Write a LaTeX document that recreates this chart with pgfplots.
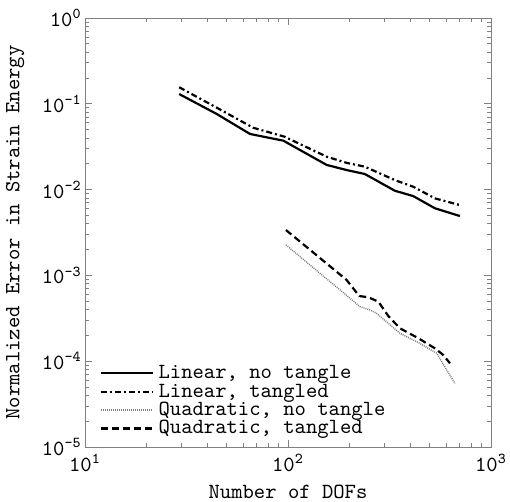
\documentclass[border=0pt]{standalone}
\usepackage{pgfplots}
\pgfplotsset{compat=1.18}
\begin{document}
\ttfamily
\begin{tikzpicture}
\begin{axis}[
  name=ax,
  scale only axis,
  width=203pt, height=214.5pt,
  xmode=log, ymode=log,
  xmin=10, xmax=1000, ymin=1e-5, ymax=1,
  xtick={10,100,1000}, ytick={1e-5,1e-4,1e-3,1e-2,1e-1,1},
  font=\ttfamily\fontsize{10.8}{12}\selectfont,
  xticklabel={10\textsuperscript{\pgfmathparse{int(round(\tick/ln(10)))}\pgfmathresult}},
  yticklabel={10\textsuperscript{\pgfmathparse{int(round(\tick/ln(10)))}\pgfmathresult}},
  yticklabel style={inner xsep=1.5pt},
  axis line style={gray},
  every tick/.style={gray},
  major tick length=3.5pt, minor tick length=2pt,
  xlabel={Number of DOFs},
  ylabel={Normalized Error in Strain Energy},
  xlabel style={at={(axis description cs:0.5,-0.1049)}, anchor=center, inner sep=1pt},
  ylabel style={at={(axis description cs:-0.1724,0.5)}, anchor=center, inner sep=1pt},
  legend cell align=left,
  legend style={draw=none, fill=none, at={(0,0)}, anchor=south west,
    xshift=7pt, yshift=4.3pt, inner sep=0pt, row sep=-0.3pt, column sep=2pt,
    nodes={inner sep=0.5pt, text height=7pt, text depth=1.5pt},
    font=\ttfamily\fontsize{10.8}{12}\selectfont},
  legend image code/.code={\draw[#1] plot coordinates {(0pt,0pt) (26pt,0pt)};},
]
\addplot[black, line width=1.1pt] coordinates {
(29.1,0.130) (44.6,0.0760) (65,0.0445) (94.8,0.0372) (155,0.0194) (194.5,0.0169) (239,0.0152) (336,0.0097) (414,0.0084) (530,0.00605) (703,0.00492)};
\addlegendentry{Linear, no tangle}
\addplot[black, line width=1.1pt, dash pattern=on 3pt off 1.5pt on 1pt off 1.5pt] coordinates {
(29.1,0.156) (44.6,0.090) (67.4,0.0526) (96,0.0414) (155,0.0242) (194.5,0.0205) (239,0.0185) (336,0.0129) (414,0.0108) (530,0.0079) (703,0.0066)};
\addlegendentry{Linear, tangled}
\addplot[gray, line width=0.7pt, dash pattern=on 0.5pt off 0.5pt] coordinates {
(97.7,0.00226) (226.6,0.000432) (253.6,0.000395) (273.5,0.000361) (356,0.000211) (430.5,0.000169) (540,0.000124) (605,0.000079) (665,0.000055)};
\addlegendentry{Quadratic, no tangle}
\addplot[black, line width=1.1pt, dash pattern=on 3.5pt off 2pt] coordinates {
(97.7,0.00338) (194.5,0.000884) (224.4,0.000575) (248.7,0.000556) (278.8,0.000494) (312,0.000336) (356,0.000242) (439,0.000185) (530,0.000141) (582,0.000118) (628,0.0000945)};
\addlegendentry{Quadratic, tangled}
\end{axis}
\pgfresetboundingbox
\useasboundingbox ([xshift=-42.5pt,yshift=-27.5pt]ax.south west) rectangle ([xshift=9.5pt,yshift=9pt]ax.north east);
\end{tikzpicture}
\end{document}
